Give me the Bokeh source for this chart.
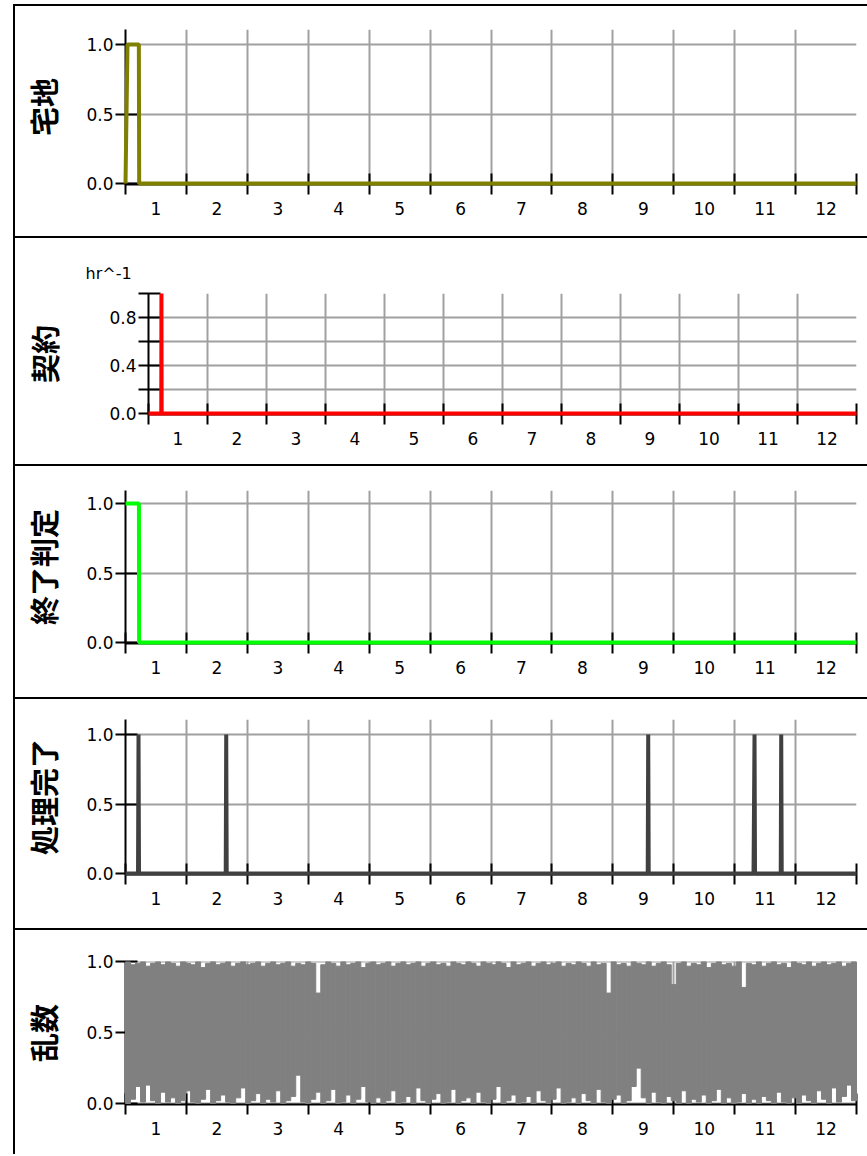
import numpy as np
from bokeh.plotting import figure
from bokeh.layouts import column, row
from bokeh.models import FixedTicker, PrintfTickFormatter, Title, Div, Spacer, Range1d
from bokeh.embed import file_html
from bokeh.resources import INLINE

# ---------------- data ----------------
MONTH_LABELS = ["1", "2", "3", "4", "5", "6", "7", "8", "9", "10", "11", "12"]
HOURS_PER_MONTH = 730
YEAR_HOURS = 8760

takuchi_x = [0, 24, 160, 164, 8760]
takuchi_y = [0, 1, 1, 0, 0]

keiyaku_x = [0, 158, 160, 163, 8760]
keiyaku_y = [0, 0, 1.0, 0, 0]

shuryo_x = [0, 161, 163, 8760]
shuryo_y = [1, 1, 0, 0]

shori_x = [0, 150, 156, 162, 1201, 1207, 1213, 6258, 6264, 6270,
           7526, 7538, 7544, 7852, 7858, 7864, 8760]
shori_y = [0, 0, 1, 0, 0, 1, 0, 0, 1, 0, 0, 1, 0, 0, 1, 0, 0]

# random-number series, summarised per 60-hour bin (max / min)
rand_hi = [1.0, 0.98, 0.99, 1.0, 0.97, 0.99, 1.0, 0.98, 1.0, 0.99,
           0.97, 1.0, 0.99, 0.98, 1.0, 0.96, 0.99, 1.0, 0.98, 0.99,
           1.0, 0.97, 0.99, 1.0, 0.98, 0.99, 1.0, 0.97, 0.99, 1.0,
           0.98, 0.99, 1.0, 0.97, 0.99, 0.98, 1.0, 0.99, 0.78, 0.98,
           1.0, 0.99, 0.97, 1.0, 0.98, 0.99, 1.0, 0.96, 0.99, 1.0,
           0.98, 0.99, 1.0, 0.97, 0.99, 1.0, 0.98, 0.99, 1.0, 0.97,
           0.99, 1.0, 0.98, 0.99, 0.97, 1.0, 0.99, 0.98, 1.0, 0.99,
           0.97, 1.0, 0.99, 0.98, 1.0, 0.99, 0.96, 1.0, 0.98, 0.99,
           1.0, 0.97, 0.99, 1.0, 0.98, 0.99, 1.0, 0.97, 0.99, 0.98,
           1.0, 0.99, 0.97, 1.0, 0.98, 0.99, 0.78, 1.0, 0.98, 0.99,
           0.97, 1.0, 0.99, 0.98, 1.0, 0.97, 0.99, 1.0, 0.98, 0.84,
           0.99, 1.0, 0.97, 0.99, 0.98, 1.0, 0.96, 0.99, 1.0, 0.98,
           0.99, 0.97, 1.0, 0.82, 0.99, 0.98, 1.0, 0.97, 0.99, 1.0,
           0.98, 0.99, 0.96, 1.0, 0.99, 0.98, 1.0, 0.97, 0.99, 1.0,
           0.98, 0.99, 1.0, 0.97, 0.99, 1.0]
rand_lo = [0.0, 0.03, 0.12, 0.01, 0.13, 0.02, 0.0, 0.08, 0.01, 0.04,
           0.0, 0.02, 0.09, 0.01, 0.0, 0.03, 0.1, 0.0, 0.02, 0.06,
           0.01, 0.0, 0.04, 0.11, 0.0, 0.02, 0.07, 0.0, 0.03, 0.01,
           0.09, 0.0, 0.02, 0.05, 0.20, 0.01, 0.0, 0.03, 0.08, 0.0,
           0.02, 0.1, 0.0, 0.01, 0.06, 0.0, 0.03, 0.12, 0.01, 0.0,
           0.04, 0.0, 0.02, 0.09, 0.0, 0.01, 0.05, 0.0, 0.11, 0.02,
           0.0, 0.03, 0.07, 0.0, 0.01, 0.1, 0.0, 0.02, 0.04, 0.0,
           0.08, 0.01, 0.0, 0.03, 0.12, 0.0, 0.02, 0.06, 0.0, 0.01,
           0.05, 0.0, 0.09, 0.02, 0.0, 0.03, 0.11, 0.0, 0.01, 0.04,
           0.0, 0.07, 0.02, 0.0, 0.1, 0.01, 0.0, 0.03, 0.06, 0.0,
           0.02, 0.12, 0.25, 0.04, 0.0, 0.08, 0.01, 0.0, 0.05, 0.02,
           0.0, 0.09, 0.0, 0.03, 0.01, 0.06, 0.0, 0.02, 0.1, 0.0,
           0.04, 0.0, 0.01, 0.07, 0.0, 0.03, 0.0, 0.05, 0.02, 0.0,
           0.08, 0.01, 0.0, 0.04, 0.0, 0.06, 0.02, 0.0, 0.09, 0.03,
           0.0, 0.11, 0.01, 0.05, 0.13, 0.02]
RAND_BIN_HOURS = 60

# ---------------- styling ----------------
TICK_FONT = "DejaVu Sans"
LABEL_FONT = "Noto Sans CJK JP"
GRID_COLOR = "#a0a0a0"
FIG_W = 852

month_bounds = [i * HOURS_PER_MONTH for i in range(13)]
month_centers = [i * HOURS_PER_MONTH + HOURS_PER_MONTH // 2 for i in range(12)]


def make_fig(h, top, bottom, left, yr, label, label_standoff, yticks, ylabels_fmt="%.1f", yminor=None):
    p = figure(width=FIG_W, height=h, x_range=Range1d(0, YEAR_HOURS), y_range=Range1d(*yr),
               output_backend="svg", toolbar_location=None,
               min_border_top=top, min_border_bottom=bottom,
               min_border_left=left, min_border_right=11, margin=0)
    p.outline_line_color = None
    p.background_fill_color = "white"
    p.border_fill_color = "white"

    xa = p.xaxis[0]
    xa.ticker = FixedTicker(ticks=month_centers, minor_ticks=month_bounds)
    xa.major_label_overrides = {c: MONTH_LABELS[i] for i, c in enumerate(month_centers)}
    xa.major_tick_line_color = None
    xa.major_tick_in = 0
    xa.major_tick_out = 10
    xa.minor_tick_in = 11
    xa.minor_tick_out = 10
    xa.minor_tick_line_color = "black"
    xa.minor_tick_line_width = 2
    xa.axis_line_color = "black"
    xa.axis_line_width = 2
    xa.major_label_standoff = 7
    xa.major_label_text_font = TICK_FONT
    xa.major_label_text_font_size = "17px"
    xa.major_label_text_color = "black"

    ya = p.yaxis[0]
    ya.ticker = FixedTicker(ticks=yticks, minor_ticks=yminor or [])
    ya.formatter = PrintfTickFormatter(format=ylabels_fmt)
    ya.major_tick_in = 12
    ya.major_tick_out = 10
    ya.major_tick_line_width = 2
    ya.major_tick_line_color = "black"
    if yminor:
        ya.minor_tick_in = 12
        ya.minor_tick_out = 10
        ya.minor_tick_line_width = 2
        ya.minor_tick_line_color = "black"
    else:
        ya.minor_tick_line_color = None
    ya.axis_line_color = "black"
    ya.axis_line_width = 2
    ya.major_label_standoff = 2
    ya.major_label_text_font = TICK_FONT
    ya.major_label_text_font_size = "17px"
    ya.major_label_text_color = "black"
    ya.axis_label = label
    ya.axis_label_text_font = LABEL_FONT
    ya.axis_label_text_font_size = "29px"
    ya.axis_label_text_font_style = "bold"
    ya.axis_label_text_color = "black"
    ya.axis_label_standoff = label_standoff

    p.xgrid.grid_line_color = None
    p.xgrid.minor_grid_line_color = GRID_COLOR
    p.xgrid.minor_grid_line_width = 2
    p.ygrid.grid_line_color = GRID_COLOR
    p.ygrid.grid_line_width = 2
    if yminor:
        p.ygrid.minor_grid_line_color = GRID_COLOR
        p.ygrid.minor_grid_line_width = 2
    return p


H1, H2, H3, H4, H5 = 230, 226, 231, 229, 224

p1 = make_fig(H1, 23, 52, 110, (-0.007, 1.108), "宅地", 19, [0, 0.5, 1.0])
r = p1.line(takuchi_x, takuchi_y, line_color="#808000", line_width=4)
r.level = "overlay"

p2 = make_fig(H2, 55, 50, 133, (-0.008, 1.0), "契約", 41, [0, 0.4, 0.8], yminor=[0.2, 0.6, 1.0])
r = p2.line(keiyaku_x, keiyaku_y, line_color="#ff0000", line_width=4)
r.level = "overlay"
p2.add_layout(Title(text="hr^-1", align="left", offset=-63, standoff=22,
                    text_font=TICK_FONT, text_font_size="16px", text_font_style="normal",
                    text_color="black"), "above")

p3 = make_fig(H3, 24, 54, 110, (-0.007, 1.094), "終了判定", 19, [0, 0.5, 1.0])
r = p3.line(shuryo_x, shuryo_y, line_color="#00ff00", line_width=4)
r.level = "overlay"

p4 = make_fig(H4, 20, 54, 110, (-0.007, 1.108), "処理完了", 19, [0, 0.5, 1.0])
r = p4.line(shori_x, shori_y, line_color="#404040", line_width=4)
r.level = "overlay"

p5 = make_fig(H5, 31, 50, 110, (-0.007, 1.003), "乱数", 19, [0, 0.5, 1.0])
rand_x = np.arange(len(rand_hi)) * RAND_BIN_HOURS + RAND_BIN_HOURS / 2
r = p5.vbar(x=rand_x, width=RAND_BIN_HOURS, top=rand_hi, bottom=rand_lo,
            fill_color="#808080", line_color="#808080", line_width=1)
r.level = "overlay"


def hbar():
    return Div(text="", width=FIG_W, height=2, margin=0,
               styles={"background-color": "black"})


def wrap(p):
    return row(p, spacing=0, margin=0)


stack = column(hbar(), wrap(p1), hbar(), wrap(p2), hbar(), wrap(p3), hbar(), wrap(p4),
               hbar(), wrap(p5), spacing=0, margin=0)
total_h = 2 + H1 + 2 + H2 + 2 + H3 + 2 + H4 + 2 + H5
vbar_left = Div(text="", width=2, height=total_h, margin=0, styles={"background-color": "black"})
body = row(Spacer(width=13, height=total_h, margin=0), vbar_left, stack, spacing=0, margin=0)
layout = column(Spacer(width=10, height=4, margin=0), body, spacing=0, margin=0)

open("out.html", "w").write(file_html(layout, INLINE))
